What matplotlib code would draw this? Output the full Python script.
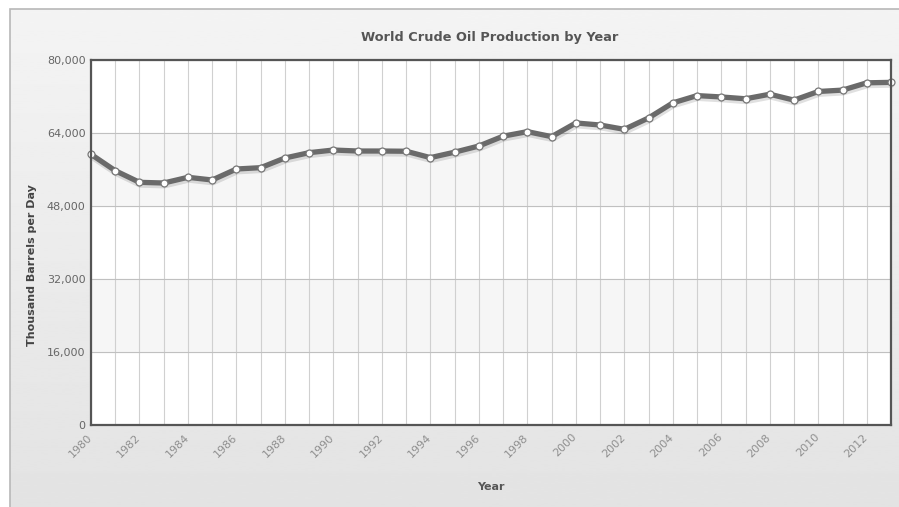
import numpy as np
import matplotlib
matplotlib.use('Agg')
import matplotlib.pyplot as plt
import matplotlib.patheffects as pe
import matplotlib.transforms as mtransforms
from matplotlib.patches import Rectangle

# world crude oil production, thousand barrels per day
years = list(range(1980, 2014))
production = [59330, 55740, 53190, 53040, 54290, 53700, 56110, 56400, 58520, 59690,
              60270, 60050, 60050, 60000, 58600, 59800, 61150, 63300, 64300, 63200,
              66200, 65750, 64800, 67300, 70600, 72200, 71900, 71500, 72500, 71200,
              73100, 73400, 75000, 75100]
y_ticks = [0, 16000, 32000, 48000, 64000, 80000]
x_ticks = list(range(1980, 2013, 2))

W, H = 899, 507
fig = plt.figure(figsize=(W / 100, H / 100), dpi=100, facecolor='white')

# gradient panel behind everything
bg = fig.add_axes([10 / W, 0, 1 - 10 / W, (H - 9) / H], zorder=-10)
grad = np.linspace(0.955, 0.89, 256).reshape(-1, 1)
bg.imshow(grad, aspect='auto', cmap='gray', vmin=0, vmax=1, extent=[0, 1, 0, 1])
bg.set_xlim(0, 1)
bg.set_ylim(0, 1)
bg.axis('off')
bg.add_patch(Rectangle((0, -0.1), 1.1, 1.1, fill=False, edgecolor='#b8b8b8', lw=1.2,
                       transform=bg.transAxes, clip_on=False))

ax = fig.add_axes([91 / W, (H - 425) / H, 800 / W, 365 / H])
ax.set_facecolor('white')
ax.set_xlim(1980, 2013)
ax.set_ylim(0, 80000)

# alternating bands
for lo in (16000, 48000):
    ax.axhspan(lo, lo + 16000, color='#f6f6f6', zorder=0)

for yr in years:
    ax.axvline(yr, color='#d0d0d0', lw=0.8, zorder=1)
for yv in y_ticks:
    ax.axhline(yv, color='#c0c0c0', lw=0.8, zorder=1)

ax.plot(years, production, color='#6a6a6a', lw=3.8, zorder=3, clip_on=False,
        solid_capstyle='round', solid_joinstyle='round',
        path_effects=[pe.SimpleLineShadow(offset=(0.5, -2), shadow_color='#000000', alpha=0.12),
                      pe.Normal()])
ax.plot(years, production, ls='none', marker='o', ms=5, mfc='white', mec='#777777',
        mew=0.9, zorder=4, clip_on=False)

ax.set_yticks(y_ticks)
ax.set_yticklabels([f'{v:,}' for v in y_ticks])
ax.set_xticks(x_ticks)
ax.set_xticklabels([str(v) for v in x_ticks], rotation=45, ha='right',
                   rotation_mode='anchor')
ax.tick_params(axis='y', length=0, pad=4, labelsize=8, labelcolor='#666666')
ax.tick_params(axis='x', length=0, pad=5, labelsize=8, labelcolor='#8f8f8f')

# nudge rotated year labels a little to the left so they end at the gridline
shift = mtransforms.ScaledTranslation(-3 / 72, 0, fig.dpi_scale_trans)
for lbl in ax.get_xticklabels():
    lbl.set_transform(lbl.get_transform() + shift)

for s in ax.spines.values():
    s.set_color('#555555')
    s.set_linewidth(1.6)
    s.set_zorder(5)

fig.text(490 / W, 1 - 37 / H, 'World Crude Oil Production by Year', ha='center',
         va='center', fontsize=9.3, fontweight='bold', color='#555555')
fig.text(32 / W, 1 - 265 / H, 'Thousand Barrels per Day', ha='center', va='center',
         rotation=90, fontsize=8, fontweight='bold', color='#444444')
fig.text(491 / W, 1 - 487 / H, 'Year', ha='center', va='center', fontsize=8,
         fontweight='bold', color='#555555')

fig.savefig('out.png', dpi=100, facecolor='white')
